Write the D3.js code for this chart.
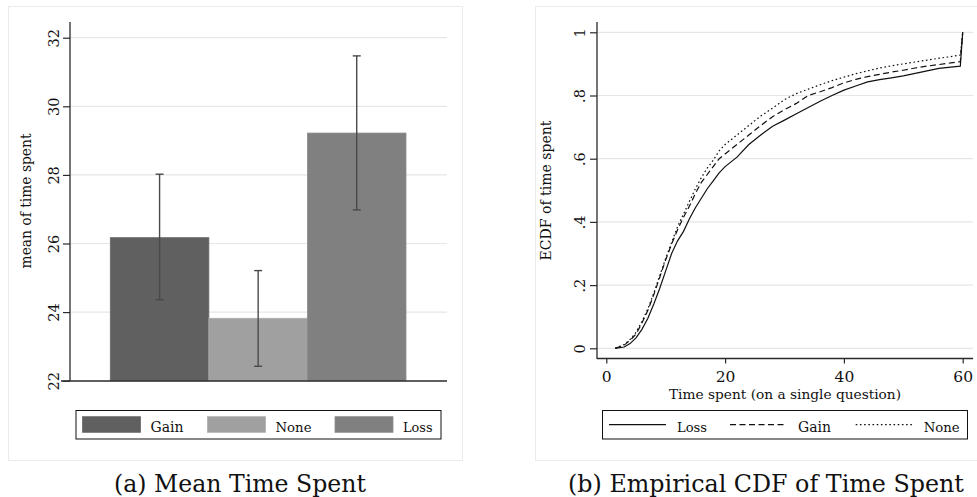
<!DOCTYPE html>
<html>
<head>
<meta charset="utf-8">
<script src="https://cdn.jsdelivr.net/npm/d3@7"></script>
<style>
    body { margin: 0; background: #fff; }
    text { font-family: "DejaVu Serif", "Liberation Serif", serif; fill: #111; }
</style>
</head>
<body>
<div id="charts"></div>
<script>
// bar panel (a)
var bar_groups = ["Gain", "None", "Loss"];
var bar_means = [26.17, 23.82, 29.22];
var bar_hi = [28.02, 25.21, 31.47];
var bar_lo = [24.36, 22.42, 26.98];
var bar_colors = ["#606060", "#a0a0a0", "#808080"];
var bar_ticks = [22, 24, 26, 28, 30, 32];

// ecdf panel (b)
var ecdf_time = [1.5, 3, 4, 5, 6, 7, 8, 9, 10, 11, 12, 13, 14, 15, 16, 17, 18, 19, 20,
    22, 24, 26, 28, 30, 32, 34, 36, 38, 40, 42, 44, 46, 48, 50, 52, 54, 56, 58, 59.6, 60];
var ecdf_loss = [0, 0.004, 0.015, 0.033, 0.06, 0.095, 0.14, 0.19, 0.245, 0.3, 0.34, 0.37, 0.41, 0.445, 0.475, 0.505, 0.53, 0.555, 0.575,
    0.605, 0.645, 0.675, 0.703, 0.722, 0.742, 0.762, 0.782, 0.8, 0.817, 0.83, 0.843, 0.85, 0.856, 0.862, 0.87, 0.878, 0.886, 0.89, 0.893, 1];
var ecdf_gain = [0, 0.01, 0.025, 0.045, 0.08, 0.12, 0.17, 0.225, 0.28, 0.33, 0.375, 0.415, 0.45, 0.49, 0.525, 0.55, 0.575, 0.6, 0.615,
    0.645, 0.675, 0.705, 0.733, 0.755, 0.775, 0.8, 0.812, 0.825, 0.84, 0.851, 0.86, 0.867, 0.874, 0.88, 0.887, 0.893, 0.898, 0.903, 0.907, 1];
var ecdf_none = [0, 0.012, 0.028, 0.05, 0.085, 0.125, 0.175, 0.23, 0.285, 0.335, 0.385, 0.425, 0.465, 0.505, 0.54, 0.57, 0.595, 0.625, 0.645,
    0.675, 0.705, 0.735, 0.76, 0.787, 0.806, 0.82, 0.834, 0.847, 0.858, 0.869, 0.878, 0.887, 0.894, 0.9, 0.906, 0.912, 0.918, 0.923, 0.928, 1];
var ecdf_names = ["Loss", "Gain", "None"];
var ecdf_dash = [null, "6,3.5", "1.6,2.6"];
var ecdf_x_ticks = [0, 20, 40, 60];
var ecdf_y_ticks = [0, 0.2, 0.4, 0.6, 0.8, 1];

const grid_color = "#e6e6e6";
const axis_color = "#2a2a2a";

const svg = d3.select("#charts")
    .append("svg")
    .attr("width", 977)
    .attr("height", 497);

bar_panel();
ecdf_panel();

function bar_panel()
{
    var g = svg.append("g").attr("id", "panel_a");

    g.append("rect")
        .attr("x", 8.5).attr("y", 6.5)
        .attr("width", 454).attr("height", 454)
        .attr("fill", "#fff")
        .attr("stroke", "#ebebeb");

    var yScale = d3.scaleLinear().domain([22, 32]).range([380.7, 37.7]);
    var xScale = d3.scaleBand().domain(bar_groups).range([110.3, 406]).padding(0);

    // gridlines
    g.append("g")
        .selectAll("line")
        .data(bar_ticks.slice(1))
        .join("line")
        .attr("x1", 70).attr("x2", 447)
        .attr("y1", d => yScale(d)).attr("y2", d => yScale(d))
        .attr("stroke", grid_color)
        .attr("stroke-width", 1.2);

    g.append("g")
        .selectAll("rect")
        .data(bar_groups)
        .join("rect")
        .attr("x", d => xScale(d))
        .attr("width", xScale.bandwidth())
        .attr("y", (d, i) => yScale(bar_means[i]))
        .attr("height", (d, i) => yScale(22) - yScale(bar_means[i]))
        .attr("fill", (d, i) => bar_colors[i])
        .attr("stroke", (d, i) => d3.color(bar_colors[i]).brighter(0.25))
        .attr("stroke-width", 0.8);

    // error bars
    var err = g.append("g")
        .attr("stroke", "#4a4a4a")
        .attr("stroke-width", 1.4)
        .selectAll("g")
        .data(bar_groups)
        .join("g")
        .attr("transform", d => "translate(" + (xScale(d) + xScale.bandwidth() / 2) + ",0)");
    err.append("line")
        .attr("y1", (d, i) => yScale(bar_hi[i]))
        .attr("y2", (d, i) => yScale(bar_lo[i]));
    err.append("line")
        .attr("x1", -4).attr("x2", 4)
        .attr("y1", (d, i) => yScale(bar_hi[i]))
        .attr("y2", (d, i) => yScale(bar_hi[i]));
    err.append("line")
        .attr("x1", -4).attr("x2", 4)
        .attr("y1", (d, i) => yScale(bar_lo[i]))
        .attr("y2", (d, i) => yScale(bar_lo[i]));

    // axes
    var yAxis = g.append("g")
        .attr("transform", "translate(70,0)")
        .call(d3.axisLeft(yScale).tickValues(bar_ticks).tickSize(7).tickSizeOuter(0));
    rotate_ticks(yAxis, -11);

    g.append("line")
        .attr("x1", 70).attr("x2", 70).attr("y1", 22).attr("y2", 381)
        .attr("stroke", axis_color).attr("stroke-width", 1.3);
    g.append("line")
        .attr("x1", 61).attr("x2", 447).attr("y1", 381).attr("y2", 381)
        .attr("stroke", axis_color).attr("stroke-width", 1.3);

    g.append("text")
        .attr("transform", "translate(31,201) rotate(-90)")
        .attr("text-anchor", "middle")
        .style("font-size", "15px")
        .text("mean of time spent")
        .call(fit_text, 135);

    // legend
    g.append("rect")
        .attr("x", 76).attr("y", 410.5)
        .attr("width", 365).attr("height", 28.5)
        .attr("fill", "#fff")
        .attr("stroke", "#111").attr("stroke-width", 1);

    var item_x = [82.5, 207.5, 335];
    var item_w = [33, 36, 29.5];
    var leg = g.append("g")
        .selectAll("g")
        .data(bar_groups)
        .join("g")
        .attr("transform", (d, i) => "translate(" + item_x[i] + ",0)");
    leg.append("rect")
        .attr("y", 416.7).attr("width", 58).attr("height", 15.6)
        .attr("fill", (d, i) => bar_colors[i])
        .attr("stroke", (d, i) => d3.color(bar_colors[i]).brighter(0.25))
        .attr("stroke-width", 0.8);
    leg.append("text")
        .attr("x", 68).attr("y", 431.5)
        .style("font-size", "15px")
        .text(d => d)
        .each(function (d, i) { fit_text(d3.select(this), item_w[i]); });

    svg.append("text")
        .attr("x", 240).attr("y", 492)
        .attr("text-anchor", "middle")
        .style("font-size", "23px")
        .text("(a) Mean Time Spent")
        .call(fit_text, 252);
}

function ecdf_panel()
{
    var g = svg.append("g").attr("id", "panel_b");

    g.append("rect")
        .attr("x", 535.5).attr("y", 6.5)
        .attr("width", 460).attr("height", 454)
        .attr("fill", "#fff")
        .attr("stroke", "#ebebeb");

    var xScale = d3.scaleLinear().domain([0, 60]).range([606.3, 962.7]);
    var yScale = d3.scaleLinear().domain([0, 1]).range([348.3, 32.3]);

    g.append("g")
        .selectAll("line")
        .data(ecdf_y_ticks)
        .join("line")
        .attr("x1", 597).attr("x2", 973)
        .attr("y1", d => yScale(d)).attr("y2", d => yScale(d))
        .attr("stroke", grid_color)
        .attr("stroke-width", 1.2);

    var series = [ecdf_loss, ecdf_gain, ecdf_none];
    var line = d3.line()
        .x((d, i) => xScale(ecdf_time[i]))
        .y(d => yScale(d))
        .curve(d3.curveLinear);

    g.append("g")
        .selectAll("path")
        .data(series)
        .join("path")
        .attr("d", d => line(d))
        .attr("fill", "none")
        .attr("stroke", "#111")
        .attr("stroke-width", 1.2)
        .attr("stroke-dasharray", (d, i) => ecdf_dash[i]);

    var fmt = function (d) {
        return d === 0 ? "0" : d === 1 ? "1" : d3.format(".1f")(d).replace(/^0/, "");
    };

    var yAxis = g.append("g")
        .attr("transform", "translate(597,0)")
        .call(d3.axisLeft(yScale).tickValues(ecdf_y_ticks).tickFormat(fmt).tickSize(7).tickSizeOuter(0));
    rotate_ticks(yAxis, -12.5);

    var xAxis = g.append("g")
        .attr("transform", "translate(0,358.5)")
        .call(d3.axisBottom(xScale).tickValues(ecdf_x_ticks).tickSize(5).tickSizeOuter(0));
    xAxis.select(".domain").remove();
    xAxis.attr("font-family", null);
    xAxis.selectAll("line").attr("stroke", axis_color).attr("stroke-width", 1.2);
    xAxis.selectAll("text")
        .attr("y", 23.5).attr("dy", 0)
        .style("font-size", "15.5px")
        .attr("fill", "#111");

    g.append("line")
        .attr("x1", 597).attr("x2", 597).attr("y1", 22).attr("y2", 359)
        .attr("stroke", axis_color).attr("stroke-width", 1.3);
    g.append("line")
        .attr("x1", 597).attr("x2", 973).attr("y1", 358.5).attr("y2", 358.5)
        .attr("stroke", axis_color).attr("stroke-width", 1.3);

    g.append("text")
        .attr("x", 785).attr("y", 398.5)
        .attr("text-anchor", "middle")
        .style("font-size", "15px")
        .text("Time spent (on a single question)")
        .call(fit_text, 232);

    g.append("text")
        .attr("transform", "translate(550.5,190.5) rotate(-90)")
        .attr("text-anchor", "middle")
        .style("font-size", "15px")
        .text("ECDF of time spent")
        .call(fit_text, 140);

    // legend
    g.append("rect")
        .attr("x", 602.5).attr("y", 410.5)
        .attr("width", 365).attr("height", 28.5)
        .attr("fill", "#fff")
        .attr("stroke", "#111").attr("stroke-width", 1);

    var item_x = [609, 730, 855.7];
    var item_w = [30, 33, 36];
    var leg = g.append("g")
        .selectAll("g")
        .data(ecdf_names)
        .join("g")
        .attr("transform", (d, i) => "translate(" + item_x[i] + ",0)");
    leg.append("line")
        .attr("x1", 0).attr("x2", 57)
        .attr("y1", 424.7).attr("y2", 424.7)
        .attr("stroke", "#111")
        .attr("stroke-width", 1.2)
        .attr("stroke-dasharray", (d, i) => ecdf_dash[i]);
    leg.append("text")
        .attr("x", 68).attr("y", 431.5)
        .style("font-size", "15px")
        .text(d => d)
        .each(function (d, i) { fit_text(d3.select(this), item_w[i]); });

    svg.append("text")
        .attr("x", 766).attr("y", 492)
        .attr("text-anchor", "middle")
        .style("font-size", "23px")
        .text("(b) Empirical CDF of Time Spent")
        .call(fit_text, 396);
}

// scale font size so that the text takes the width it has in the figure
function fit_text(sel, target)
{
    var node = sel.node();
    var size = parseFloat(sel.style("font-size"));
    var w = node.getComputedTextLength();
    if (w > 0) sel.style("font-size", (size * target / w).toFixed(2) + "px");
}

function rotate_ticks(axis, offset)
{
    axis.select(".domain").remove();
    axis.attr("font-family", null);
    axis.selectAll("line").attr("stroke", axis_color).attr("stroke-width", 1.2);
    axis.selectAll("text")
        .attr("transform", "rotate(-90)")
        .attr("x", 0)
        .attr("y", offset)
        .attr("dy", 0)
        .attr("text-anchor", "middle")
        .attr("fill", "#111")
        .style("font-size", "14.5px");
}
</script>
</body>
</html>
